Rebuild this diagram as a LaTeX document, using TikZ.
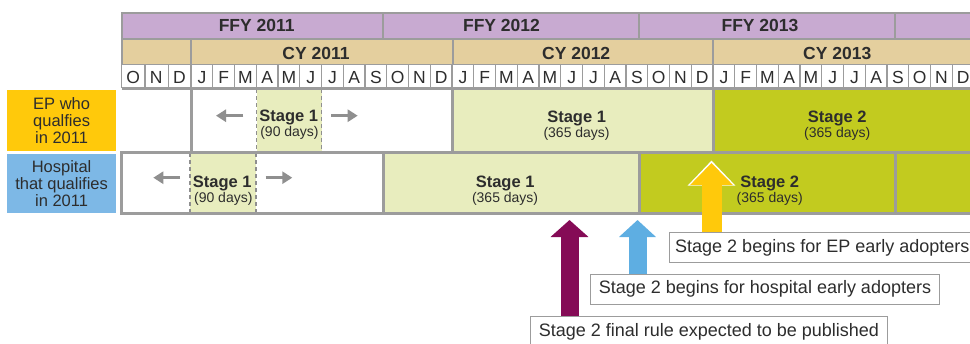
\documentclass[tikz,border=0pt]{standalone}
\usepackage{fontspec}
\setmainfont{Liberation Sans}
\usetikzlibrary{arrows.meta,positioning}

\definecolor{ffy}{HTML}{C8AAD1}
\definecolor{cy}{HTML}{E4CF9E}
\definecolor{stageone}{HTML}{E8EDBE}
\definecolor{stagetwo}{HTML}{C2CB1F}
\definecolor{linegray}{HTML}{9C9C9C}
\definecolor{arrgray}{HTML}{8F8F8F}
\definecolor{epyellow}{HTML}{FFC90B}
\definecolor{hospblue}{HTML}{7DB8E6}
\definecolor{rulemaroon}{HTML}{850B56}
\definecolor{arrblue}{HTML}{5EAEE2}
\definecolor{ink}{HTML}{2D2D2D}

\tikzset{
  hdrcell/.style={draw=linegray, line width=2pt},
  moncell/.style={draw=linegray, line width=1.2pt},
  rowline/.style={draw=linegray, line width=3pt},
  dashline/.style={draw=arrgray, line width=1.5pt, dash pattern=on 4pt off 3pt},
  hdrtxt/.style={anchor=base, font=\bfseries\fontsize{17.5}{17.5}\selectfont, text=ink},
  montxt/.style={anchor=base, font=\fontsize{17.5}{17.5}\selectfont, text=ink},
  stagetxt/.style={anchor=base, font=\bfseries\fontsize{16.5}{16.5}\selectfont, text=ink},
  daystxt/.style={anchor=base, font=\fontsize{14}{14}\selectfont, text=ink},
  wholbl/.style={font=\fontsize{16.5}{17}\selectfont, text=ink, align=center, minimum width=108.4pt, inner sep=0pt},
  notebox/.style={draw=linegray, line width=1pt, fill=white, text=ink, font=\fontsize{18}{18}\selectfont, minimum height=30pt, inner sep=0pt},
  greyarr/.style={-{Triangle[width=12pt,length=10pt]}, draw=arrgray, line width=3pt}
}

\begin{document}
\begin{tikzpicture}[x=1pt,y=-1pt]
  \useasboundingbox (0,0) rectangle (970,343);
  \clip (0,0) rectangle (970,343);

  % --- FFY row ---
  \filldraw[fill=ffy, hdrcell] (121.5,12.5) rectangle (383,38.5);
  \filldraw[fill=ffy, hdrcell] (383,12.5) rectangle (639,38.5);
  \filldraw[fill=ffy, hdrcell] (639,12.5) rectangle (895,38.5);
  \filldraw[fill=ffy, hdrcell] (895,12.5) rectangle (985,38.5);
  \node[hdrtxt] (ffy11) at (256.7,31.7) {FFY 2011};
  \node[hdrtxt] (ffy12) at (501.5,31.7) {FFY 2012};
  \node[hdrtxt] (ffy13) at (760,31.7) {FFY 2013};

  % --- CY row ---
  \filldraw[fill=cy, hdrcell] (121.5,38.5) rectangle (191,65);
  \filldraw[fill=cy, hdrcell] (191,38.5) rectangle (452.5,65);
  \filldraw[fill=cy, hdrcell] (452.5,38.5) rectangle (713,65);
  \filldraw[fill=cy, hdrcell] (713,38.5) rectangle (985,65);
  \node[hdrtxt] (cy11) at (316,59) {CY 2011};
  \node[hdrtxt] (cy12) at (576.2,59) {CY 2012};
  \node[hdrtxt] (cy13) at (837.2,59) {CY 2013};

  % --- Month row ---
  \fill[white] (121.5,65) rectangle (985,88.3);
  \draw[moncell] (121.5,65) -- (121.5,88.3) (145,65) -- (145,88.3) (168.3,65) -- (168.3,88.3);
  \foreach \i in {0,...,36}
    \draw[moncell] ({191+\i*21.75},65) -- ++(0,23.3);
  \foreach \m [count=\i from 0] in {O,N,D}
    \node[montxt] (mo\i) at ({121.5+(\i+0.5)*23.17},83) {\m};
  \foreach \m [count=\i from 0] in {J,F,M,A,M,J,J,A,S,O,N,D,J,F,M,A,M,J,J,A,S,O,N,D,J,F,M,A,M,J,J,A,S,O,N,D}
    \node[montxt] (m\i) at ({191+(\i+0.5)*21.75},83) {\m};

  % --- EP row ---
  \fill[white] (191,88.3) rectangle (452.5,152.5);
  \fill[stageone] (256.5,88.3) rectangle (321.5,152.5);
  \fill[stageone] (452.5,88.3) rectangle (713,152.5);
  \fill[stagetwo] (713,88.3) rectangle (985,152.5);
  \draw[dashline] (256.5,89) -- (256.5,152) (321.5,89) -- (321.5,152);
  \draw[rowline] (191,152.5) -- (191,88.3) -- (985,88.3);
  \draw[rowline] (121.5,88.3) -- (191,88.3);
  \draw[rowline] (452.5,88.3) -- (452.5,152.5) (713,88.3) -- (713,152.5);

  % --- Hospital row ---
  \fill[white] (121.5,152.5) rectangle (383,213);
  \fill[stageone] (190,152.5) rectangle (256,213);
  \fill[stageone] (383,152.5) rectangle (639,213);
  \fill[stagetwo] (639,152.5) rectangle (985,213);
  \draw[dashline] (190,153) -- (190,212.5) (256,153) -- (256,212.5);
  \draw[rowline] (121.5,152.5) rectangle (985,213);
  \draw[rowline] (383,152.5) -- (383,213) (639,152.5) -- (639,213) (895,152.5) -- (895,213);

  % stage labels
  \node[stagetxt] (ep90) at (288.7,121.7) {Stage 1};
  \node[daystxt] (ep90d) at (289.5,136.7) {(90 days)};
  \node[stagetxt] (epone) at (576.6,122) {Stage 1};
  \node[daystxt] (eponed) at (576.6,137) {(365 days)};
  \node[stagetxt] (eptwo) at (837.2,122) {Stage 2};
  \node[daystxt] (eptwod) at (837.2,137) {(365 days)};
  \node[stagetxt] (hosp90) at (222.2,187) {Stage 1};
  \node[daystxt] (hosp90d) at (223.3,202) {(90 days)};
  \node[stagetxt] (hospone) at (505.1,187.5) {Stage 1};
  \node[daystxt] (hosponed) at (505.1,202.5) {(365 days)};
  \node[stagetxt] (hosptwo) at (769.8,187.5) {Stage 2};
  \node[daystxt] (hosptwod) at (769.8,202.5) {(365 days)};

  % grey shift arrows
  \draw[greyarr] (243.3,115.7) -- (216,115.7);
  \draw[greyarr] (331,115.7) -- (357.7,115.7);
  \draw[greyarr] (180,177.7) -- (153.3,177.7);
  \draw[greyarr] (265.7,177.7) -- (292.3,177.7);

  % row labels
  \node[wholbl, fill=epyellow, minimum height=60.4pt] (eplbl) at (61.6,120.5) {EP who\\qualfies\\in 2011};
  \node[wholbl, fill=hospblue, minimum height=59.4pt] (hosplbl) at (61.6,183.7) {Hospital\\that qualifies\\in 2011};

  % --- Callouts ---
  \node[notebox, minimum width=306pt] (epnote) at (822.3,247.5) {Stage 2 begins for EP early adopters};
  \node[notebox, minimum width=348.6pt] (hospnote) at (765,289) {Stage 2 begins for hospital early adopters};
  \node[notebox, minimum width=357.7pt, minimum height=31pt] (rulenote) at (708.9,332.2) {Stage 2 final rule expected to be published};
  \coordinate (eptip) at (711.5,163);
  \coordinate (hosptip) at (637.5,220);
  \coordinate (ruletip) at (569.5,220);

  \draw[-{Triangle[width=46pt,length=25pt]}, white, line width=20pt] (epnote.north -| eptip) -- ([yshift=2.5pt]eptip);
  \draw[-{Triangle[width=41.5pt,length=22pt]}, epyellow, line width=20pt] (epnote.north -| eptip) -- (eptip);
  \draw[-{Triangle[width=36pt,length=17pt]}, arrblue, line width=18pt] (hospnote.north -| hosptip) -- (hosptip);
  \draw[-{Triangle[width=37pt,length=17pt]}, rulemaroon, line width=18pt] (rulenote.north -| ruletip) -- (ruletip);
\end{tikzpicture}
\end{document}
